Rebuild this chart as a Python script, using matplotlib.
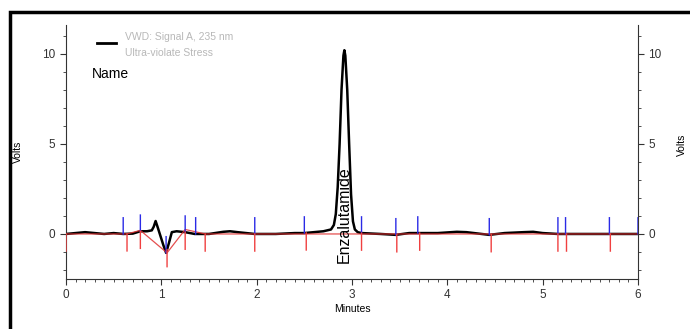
import numpy as np
import matplotlib
matplotlib.use('Agg')
import matplotlib.pyplot as plt
from matplotlib.patches import Rectangle

plt.rcParams['font.family'] = ['Liberation Sans Narrow', 'Liberation Sans', 'DejaVu Sans']

# chromatogram trace (minutes, volts)
t = [0.0, 0.1, 0.2, 0.3, 0.4, 0.5, 0.6, 0.7, 0.78, 0.85, 0.9, 0.92, 0.94, 0.96, 0.99,
     1.02, 1.05, 1.08, 1.11, 1.16, 1.25, 1.35, 1.5, 1.65, 1.72, 1.8, 1.98, 2.2, 2.4,
     2.5, 2.6, 2.7, 2.78, 2.81, 2.83, 2.85, 2.87, 2.89, 2.91, 2.92, 2.93, 2.95, 2.97,
     2.99, 3.01, 3.03, 3.06, 3.1, 3.3,
     3.46, 3.6, 3.69, 3.9, 4.1, 4.2, 4.44, 4.6, 4.8, 4.9, 5.0, 5.16, 5.3, 5.5, 5.7, 5.85, 6.0]
v = [0.0, 0.05, 0.1, 0.05, 0.0, 0.05, 0.0, 0.02, 0.15, 0.15, 0.2, 0.4, 0.72, 0.4, -0.1,
     -0.6, -1.05, -0.5, 0.1, 0.15, 0.1, 0.0, 0.0, 0.12, 0.15, 0.1, 0.0, 0.0, 0.05,
     0.05, 0.1, 0.15, 0.25, 0.5, 1.1, 2.6, 5.0, 8.0, 9.9, 10.2, 9.9, 8.0, 5.0,
     2.2, 0.7, 0.25, 0.1, 0.05, 0.0,
     -0.05, 0.05, 0.05, 0.05, 0.12, 0.1, -0.05, 0.05, 0.1, 0.12, 0.05, 0.0, 0.0, 0.0, 0.0, 0.0, 0.0]

# integration baseline segments (red)
base_t = [0.0, 0.64, 0.78, 1.06, 1.25, 1.46, 1.98, 2.52, 3.10, 3.47, 3.71, 4.46, 5.16, 5.25, 5.71, 6.0]
base_v = [0.0, 0.0, 0.2, -1.05, 0.25, 0.0, 0.0, 0.0, 0.0, 0.0, 0.0, 0.0, 0.0, 0.0, 0.0, 0.0]

# peak start (blue) and end (red) event marks
blue_marks = [0.60, 0.78, 1.05, 1.25, 1.36, 1.98, 2.50, 3.10, 3.46, 3.69, 4.44, 5.16, 5.24, 5.70, 6.0]
red_marks = [0.0, 0.64, 0.78, 1.06, 1.25, 1.46, 1.98, 2.52, 3.10, 3.47, 3.71, 4.46, 5.16, 5.25, 5.71]

peak_name = 'Enzalutamide'
peak_time = 2.92

fig = plt.figure(figsize=(6.9, 3.29), dpi=100)
ax = fig.add_axes([66 / 690, 1 - 279 / 329, 572 / 690, 254 / 329])

ax.plot(t, v, color='black', lw=1.8, zorder=2)
ax.plot(base_t, base_v, color='#e03030', lw=0.9, alpha=0.85, zorder=3)

for m in blue_marks:
    y0 = np.interp(m, t, v)
    ax.plot([m, m], [y0, y0 + 0.9], color='#2a2ae6', lw=1.0, zorder=4, snap=False)
for m in red_marks:
    y0 = np.interp(m, t, v)
    ax.plot([m, m], [y0, y0 - 0.95], color='#f04040', lw=1.0, zorder=4, snap=False)

ax.text(peak_time, -1.6, peak_name, rotation=90, ha='center', va='bottom',
        fontsize=11.5, color='black', zorder=5)

ax.set_xlim(0, 6)
ax.set_ylim(-2.5, 11.6)
ax.spines['top'].set_visible(False)
for s in ['left', 'right', 'bottom']:
    ax.spines[s].set_linewidth(0.8)
    ax.spines[s].set_color('#333333')

ax.set_xticks(range(0, 7))
ax.set_xticks(np.arange(0, 6.01, 0.1), minor=True)
ax.set_yticks([0, 5, 10])
ax.set_yticks(range(-2, 12), minor=True)
ax.tick_params(which='both', direction='out', labelsize=8.5, colors='#333333',
               right=True, labelright=True)
ax.tick_params(which='major', length=4)
ax.tick_params(which='minor', length=2.5)

ax.set_xlabel('Minutes', fontsize=7.5, labelpad=2)
ax.set_ylabel('Volts', fontsize=7.5, labelpad=14)
ax.text(1.077, 0.53, 'Volts', transform=ax.transAxes, rotation=90, fontsize=7.5,
        ha='center', va='center')

# legend block
ax.plot([0.32, 0.52], [10.6, 10.6], color='black', lw=2)
ax.text(0.62, 10.95, 'VWD: Signal A, 235 nm', fontsize=7.5, color='#b8b8b8', va='center')
ax.text(0.62, 10.05, 'Ultra-violate Stress', fontsize=7.5, color='#b8b8b8', va='center')
ax.text(0.27, 8.9, 'Name', fontsize=10, color='black', va='center')

# outer black frame
fig.add_artist(Rectangle((10 / 690, -0.1), 1.2, 1.1 - 12 / 329, transform=fig.transFigure,
                         fill=False, edgecolor='black', lw=2.5))

fig.savefig('out.png', dpi=100)
